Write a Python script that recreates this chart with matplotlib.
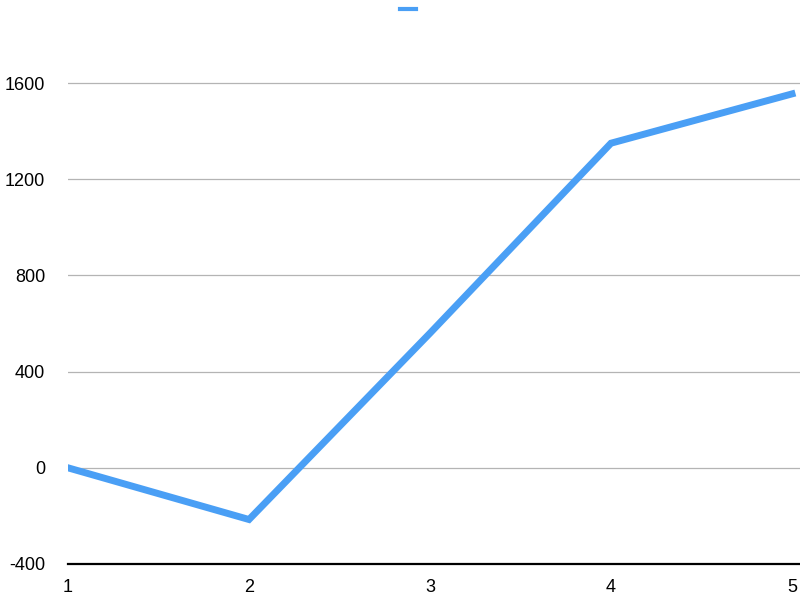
import matplotlib
matplotlib.use('Agg')
import matplotlib.pyplot as plt
from matplotlib.lines import Line2D

x = [1, 2, 3, 4, 5]
y = [0, -215, 560, 1350, 1555]
yticks = [-400, 0, 400, 800, 1200, 1600]

plt.rcParams['font.family'] = ['Liberation Sans', 'DejaVu Sans']

fig = plt.figure(figsize=(8, 5.96), dpi=100)
ax = fig.add_axes([68 / 800, 32 / 596, 732 / 800, 529 / 596])

line_color = '#4a9ff5'
ax.plot(x, y, color=line_color, lw=5, solid_joinstyle='miter', zorder=3)

ax.set_xlim(1, 5 + 8 / 181)
ax.set_ylim(-400, 1800)
ax.set_xticks(x)
ax.set_yticks(yticks)
ax.set_xticklabels([str(v) for v in x])
ax.set_yticklabels([str(v) for v in yticks])
ax.grid(axis='y', color='#b4b4b4', lw=0.9)
ax.tick_params(length=0, labelsize=13)
ax.tick_params(axis='y', pad=16.5)
ax.tick_params(axis='x', pad=10.5)

for s in ['top', 'right', 'left']:
    ax.spines[s].set_visible(False)
ax.spines['bottom'].set_linewidth(1.6)
ax.spines['bottom'].set_color('black')

handle = Line2D([], [], color=line_color, lw=3)
fig.legend(handles=[handle], labels=[''], loc='upper center',
           bbox_to_anchor=(0.51, 1.0), frameon=False, fontsize=12,
           handlelength=1.0, handletextpad=0, borderaxespad=0.0,
           borderpad=0.2)

plt.savefig('out.png', dpi=100)
